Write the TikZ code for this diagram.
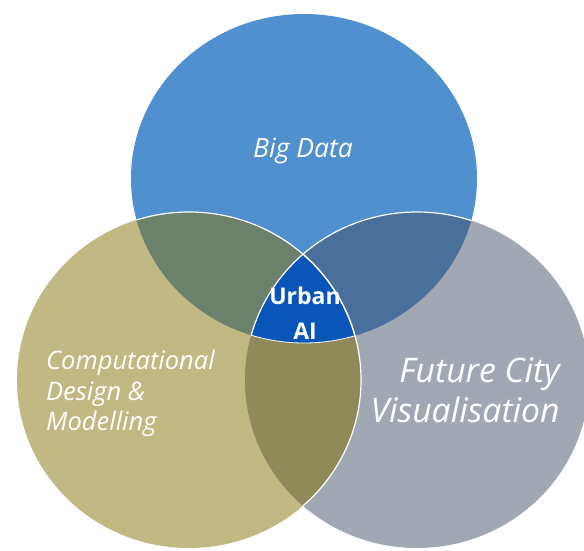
\documentclass[tikz,border=0pt]{standalone}
\usepackage{fontspec}
\setmainfont{Open Sans}
\definecolor{cblue}{HTML}{5090CF}
\definecolor{colive}{HTML}{C0B983}
\definecolor{cgray}{HTML}{A2A8B3}
\definecolor{cbo}{HTML}{6B816B}
\definecolor{cbg}{HTML}{4B6F9B}
\definecolor{cog}{HTML}{8E8A5A}
\definecolor{ccenter}{HTML}{0A56B8}
\def\circB{(304,178.5) ellipse [x radius=173, y radius=164.5]}
\def\circL{(189,380) ellipse [x radius=172, y radius=168]}
\def\circR{(417,380) ellipse [x radius=172, y radius=168]}
\tikzset{
  lbl/.style={text=white, inner sep=0pt},
  sep/.style={draw=white, line width=1.2pt}
}
\begin{document}
\begin{tikzpicture}[x=1pt,y=-1pt]
\path[use as bounding box] (0,0) rectangle (584,550);
\fill[cblue] \circB;
\fill[colive] \circL;
\fill[cgray] \circR;
\begin{scope}
  \clip \circB;
  \fill[cbo] \circL;
  \fill[cbg] \circR;
\end{scope}
\begin{scope}
  \clip \circL;
  \fill[cog] \circR;
\end{scope}
\begin{scope}
  \clip \circB;
  \clip \circL;
  \fill[ccenter] \circR;
\end{scope}
% white separating arcs
\begin{scope}
  \clip \circB;
  \draw[sep] \circL;
  \draw[sep] \circR;
\end{scope}
\begin{scope}
  \clip \circR;
  \draw[sep] \circL;
\end{scope}
\begin{scope}
  \clip \circL;
  \clip \circR;
  \draw[sep, line width=0.8pt] \circB;
\end{scope}
\node[lbl, font=\fontsize{26.5}{32}\selectfont\itshape, anchor=base] (bigdata) at (303,157) {Big Data};
\node[lbl, font=\fontsize{25.5}{30.5}\selectfont\itshape, anchor=north west, align=left] (cdm) at (46,350) {Computational\\Design \&\\Modelling};
\node[lbl, font=\fontsize{33.8}{40}\selectfont\itshape, anchor=north east, align=right] (fcv) at (560,357) {Future City\\Visualisation};
\node[lbl, font=\fontsize{23}{35}\selectfont\bfseries, anchor=north, align=center] (uai) at (305,287) {Urban\\AI};
\end{tikzpicture}
\end{document}
